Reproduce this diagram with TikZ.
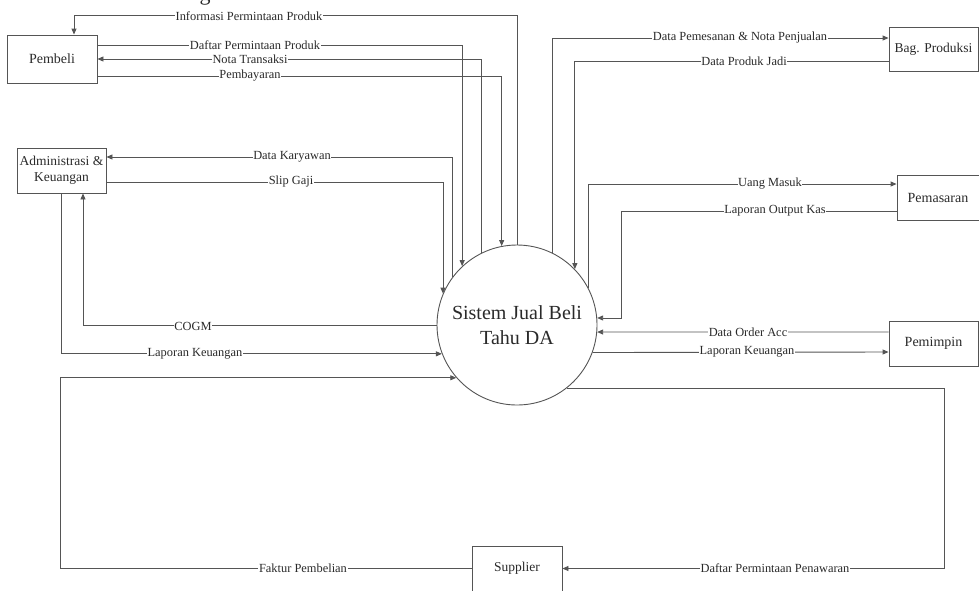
\documentclass[tikz,border=0pt]{standalone}
\usepackage{fontspec}
\setmainfont{Liberation Serif}
\usetikzlibrary{arrows.meta}
\definecolor{ln}{HTML}{555555}
\definecolor{tx}{HTML}{2A2A2A}
\tikzset{
  ent/.style={draw=ln, line width=0.9pt, rectangle, minimum width=89pt, minimum height=45pt, inner sep=0pt, align=center, text=tx, font=\fontsize{14}{16}\selectfont},
  proc/.style={draw=ln, line width=0.9pt, circle, minimum size=160pt, inner sep=0pt, align=center, text=tx, font=\fontsize{20}{25}\selectfont},
  flow/.style={draw=ln, line width=0.9pt},
  arr/.style={flow, -{Triangle[length=6pt,width=5pt]}},
  lbl/.style={fill=white, inner sep=0.6pt, text=tx, font=\fontsize{12.4}{13}\selectfont}
}
\begin{document}
\begin{tikzpicture}[x=1pt,y=-1pt]
\useasboundingbox (0,0) rectangle (979,590);
\fill[white] (0,0) rectangle (979,590);
\begin{scope}
\clip (0,0) rectangle (979,590);
\node[text=tx, font=\fontsize{22}{22}\selectfont, anchor=base] (gtitle) at (205,0.5) {g};
\end{scope}

% entities
\node[ent, minimum width=90pt, minimum height=48pt] (pb) at (52,59) {Pembeli};
\node[ent, font=\fontsize{13.5}{16}\selectfont] (adm) at (61.5,170.5) {Administrasi \&\\Keuangan};
\node[ent, minimum height=44pt, font=\fontsize{13.5}{16}\selectfont] (bp) at (933.5,49) {Bag. Produksi};
\node[ent, minimum width=82pt] (pm) at (938,197.5) {Pemasaran};
\node[ent] (pp) at (933.5,343.5) {Pemimpin};
\node[ent, minimum width=90pt, font=\fontsize{13.5}{16}\selectfont] (sup) at (517,568.5) {Supplier};
\node[proc] (sys) at (517,325) {Sistem Jual Beli\\Tahu DA};

% flows with Pembeli
\draw[arr] (sys.north) -- ++(0,-229) -| ([xshift=22]pb.north);
\draw[arr] ([yshift=14]pb.east) -| (sys.133.4);
\draw[arr] (sys.116.7) |- (pb.east);
\draw[arr] ([yshift=-17]pb.east) -| (sys.101.5);

% flows with Administrasi
\draw[arr] (sys.143.1) |- ([yshift=13.5]adm.east);
\draw[arr] ([yshift=-11.5]adm.east) -| (sys.157.7);
\draw[arr] (sys.west) -| ([xshift=21.5]adm.south);
\draw[arr] (adm.south) |- (sys.201.3);

% flows with Supplier
\draw[arr] (sup.west) -- ++(-411,0) |- (sys.221.5);
\draw[arr] (sys.308) -- ++(378,0) |- (sup.east);

% flows with Bag. Produksi
\draw[arr] (sys.64.8) |- ([yshift=11]bp.west);
\draw[arr] ([yshift=-12]bp.west) -| (sys.44.6);

% flows with Pemasaran
\draw[arr] (sys.27.4) |- ([yshift=13.5]pm.west);
\draw[arr] ([yshift=-13.5]pm.west) -- ++(-275,0) |- (sys.5);

% flows with Pemimpin
\draw[arr] ([yshift=11.5]pp.west) -- (sys.355);
\draw[arr] (sys.340.3) -- ([yshift=-8.5]pp.west);

% labels
\node[lbl] (l1) at (249,16) {Informasi Permintaan Produk};
\node[lbl] (l2) at (255,45) {Daftar Permintaan Produk};
\node[lbl] (l3) at (250,59) {Nota Transaksi};
\node[lbl] (l4) at (250,76) {Pembayaran};
\node[lbl] (l5) at (292,157) {Data Karyawan};
\node[lbl] (l6) at (291,182) {Slip Gaji};
\node[lbl] (l7) at (193,326) {COGM};
\node[lbl] (l8) at (195,354) {Laporan Keuangan};
\node[lbl] (l9) at (303,568) {Faktur Pembelian};
\node[lbl] (l10) at (775,568) {Daftar Permintaan Penawaran};
\node[lbl] (l11) at (740,38) {Data Pemesanan \& Nota Penjualan};
\node[lbl] (l12) at (744,61) {Data Produk Jadi};
\node[lbl] (l13) at (770,184) {Uang Masuk};
\node[lbl] (l14) at (775,211) {Laporan Output Kas};
\node[lbl] (l15) at (748,332) {Data Order Acc};
\node[lbl] (l16) at (747,352) {Laporan Keuangan};
\end{tikzpicture}
\end{document}
